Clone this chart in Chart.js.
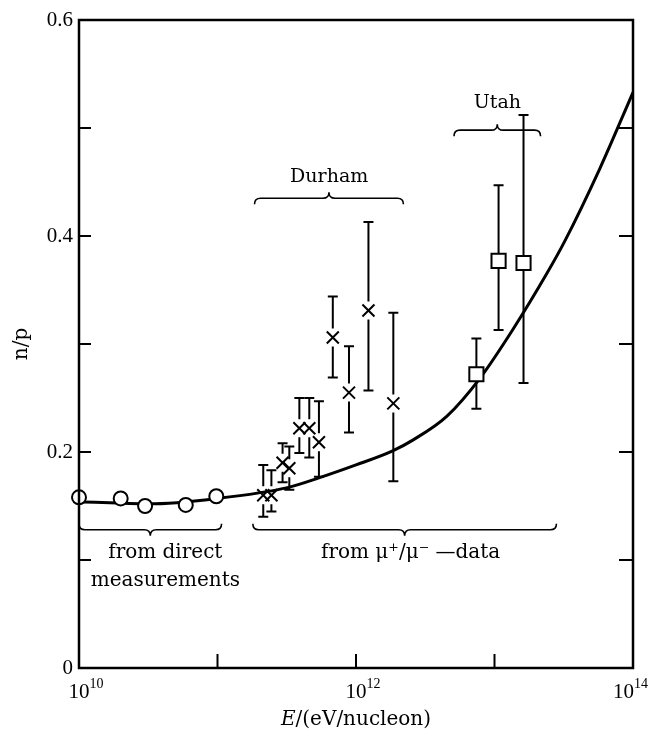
<!DOCTYPE html>
<html>
<head>
<meta charset="utf-8">
<script src="https://cdn.jsdelivr.net/npm/chart.js@4.4.1/dist/chart.umd.min.js"></script>
<style>
  html, body { margin: 0; padding: 0; background: #fff; }
  #wrap { width: 650px; height: 738px; }
</style>
</head>
<body>
<div id="wrap"><canvas id="npChart" width="650" height="738"></canvas></div>
<script>
// direct measurements (open circles)
const directE  = [1.0e10, 2.0e10, 3.0e10, 5.9e10, 9.8e10];
const directNP = [0.158, 0.157, 0.150, 0.151, 0.159];

// Durham, from mu+/mu- ratio (crosses)
const durhamE  = [2.14e11, 2.45e11, 2.95e11, 3.3e11, 3.9e11, 4.6e11, 5.4e11, 6.8e11, 8.9e11, 1.23e12, 1.86e12];
const durhamNP = [0.160, 0.160, 0.190, 0.185, 0.222, 0.222, 0.209, 0.306, 0.255, 0.331, 0.245];
const durhamLo = [0.140, 0.145, 0.172, 0.165, 0.199, 0.195, 0.177, 0.269, 0.218, 0.257, 0.173];
const durhamHi = [0.188, 0.183, 0.208, 0.205, 0.250, 0.250, 0.247, 0.344, 0.298, 0.413, 0.329];

// Utah (open squares)
const utahE  = [7.4e12, 1.07e13, 1.62e13];
const utahNP = [0.272, 0.377, 0.375];
const utahLo = [0.240, 0.313, 0.264];
const utahHi = [0.305, 0.447, 0.512];

// model curve
const curveE  = [1e10, 3.2e10, 1e11, 3.2e11, 5.4e11, 1e12, 1.84e12, 2.57e12, 4.52e12, 7.82e12, 1.35e13, 2.38e13, 3.21e13, 5.74e13, 1e14];
const curveNP = [0.154, 0.152, 0.157, 0.167, 0.176, 0.188, 0.201, 0.211, 0.233, 0.268, 0.313, 0.365, 0.395, 0.462, 0.533];

// axis ticks
const xLabelExp = [10, 12, 14];
const xTickE = [1e11, 1e12, 1e13];
const yLabels = [0, 0.2, 0.4, 0.6];
const yTicks = [0.1, 0.2, 0.3, 0.4, 0.5];

// braces and their captions (data coordinates)
const braces = [
    { from: 1.0e10, to: 1.07e11, y: 0.128, dir: 1 },
    { from: 1.8e11, to: 2.8e13, y: 0.128, dir: 1 },
    { from: 1.85e11, to: 2.2e12, y: 0.435, dir: -1 },
    { from: 5.1e12, to: 2.15e13, y: 0.498, dir: -1 }
];
const captions = [
    { text: 'from direct', E: 4.2e10, y: 0.107, size: 20 },
    { text: 'measurements', E: 4.2e10, y: 0.081, size: 20 },
    { text: 'from \u03bc\u207a/\u03bc\u207b \u2014data', E: 2.48e12, y: 0.107, size: 20 },
    { text: 'Durham', E: 6.4e11, y: 0.455, size: 19 },
    { text: 'Utah', E: 1.05e13, y: 0.523, size: 19 }
];

const errorSets = [
    { E: durhamE, lo: durhamLo, hi: durhamHi, mid: durhamNP, gap: 9 },
    { E: utahE, lo: utahLo, hi: utahHi, mid: utahNP, gap: 0 }
];

const SERIF = '"DejaVu Serif", serif';
const NUM = '"Liberation Serif", serif';

function pts(xs, ys) {
    return xs.map((x, i) => ({ x: x, y: ys[i] }));
}

function drawBrace(ctx, x1, x2, y, dir) {
    const xm = (x1 + x2) / 2;
    const r = 6;
    ctx.beginPath();
    ctx.moveTo(x1, y - dir * r);
    ctx.quadraticCurveTo(x1, y, x1 + r, y);
    ctx.lineTo(xm - r, y);
    ctx.quadraticCurveTo(xm, y, xm, y + dir * r);
    ctx.quadraticCurveTo(xm, y, xm + r, y);
    ctx.lineTo(x2 - r, y);
    ctx.quadraticCurveTo(x2, y, x2, y - dir * r);
    ctx.stroke();
}

const figurePlugin = {
    id: 'figure',
    beforeDatasetsDraw(chart) {
        const ctx = chart.ctx, xs = chart.scales.x, ys = chart.scales.y;
        ctx.save();
        ctx.strokeStyle = '#000';
        ctx.lineWidth = 2;
        errorSets.forEach(set => {
            set.E.forEach((e, i) => {
                const px = xs.getPixelForValue(e);
                const top = ys.getPixelForValue(set.hi[i]);
                const bot = ys.getPixelForValue(set.lo[i]);
                ctx.beginPath();
                if (set.gap) {
                    const c = ys.getPixelForValue(set.mid[i]);
                    ctx.moveTo(px, top); ctx.lineTo(px, c - set.gap);
                    ctx.moveTo(px, c + set.gap); ctx.lineTo(px, bot);
                } else {
                    ctx.moveTo(px, top); ctx.lineTo(px, bot);
                }
                ctx.moveTo(px - 5, top); ctx.lineTo(px + 5, top);
                ctx.moveTo(px - 5, bot); ctx.lineTo(px + 5, bot);
                ctx.stroke();
            });
        });
        ctx.restore();
    },
    afterDraw(chart) {
        const ctx = chart.ctx, xs = chart.scales.x, ys = chart.scales.y;
        const a = chart.chartArea;
        ctx.save();
        ctx.strokeStyle = '#000';
        ctx.fillStyle = '#000';

        // frame
        ctx.lineWidth = 2.5;
        ctx.strokeRect(a.left, a.top, a.right - a.left, a.bottom - a.top);

        // inward ticks
        ctx.lineWidth = 2;
        ctx.beginPath();
        xTickE.forEach(e => {
            const px = xs.getPixelForValue(e);
            ctx.moveTo(px, a.bottom); ctx.lineTo(px, a.bottom - 14);
        });
        yTicks.forEach(v => {
            const py = ys.getPixelForValue(v);
            ctx.moveTo(a.left, py); ctx.lineTo(a.left + 12, py);
            ctx.moveTo(a.right, py); ctx.lineTo(a.right - 14, py);
        });
        ctx.stroke();

        // y tick labels
        ctx.font = '21px ' + NUM;
        ctx.textAlign = 'right';
        ctx.textBaseline = 'middle';
        yLabels.forEach(v => {
            ctx.fillText(v === 0 ? '0' : v.toFixed(1), a.left - 6, ys.getPixelForValue(v));
        });

        // x tick labels 10^n
        ctx.textAlign = 'left';
        ctx.textBaseline = 'middle';
        xLabelExp.forEach(n => {
            const px = xs.getPixelForValue(Math.pow(10, n));
            ctx.font = '21px ' + NUM;
            const wMain = ctx.measureText('10').width;
            ctx.font = '14px ' + NUM;
            const wSup = ctx.measureText(String(n)).width;
            let left = px - wMain / 2;
            if (left + wMain + wSup > 648) left = 648 - wMain - wSup;
            ctx.font = '21px ' + NUM;
            ctx.fillText('10', left, a.bottom + 24);
            ctx.font = '14px ' + NUM;
            ctx.fillText(String(n), left + wMain, a.bottom + 16);
        });

        // axis titles
        ctx.font = 'italic 20px ' + SERIF;
        const wE = ctx.measureText('E').width;
        ctx.font = '20px ' + SERIF;
        const rest = '/(eV/nucleon)';
        const wR = ctx.measureText(rest).width;
        const cx = (a.left + a.right) / 2;
        const sx = cx - (wE + wR) / 2;
        ctx.font = 'italic 20px ' + SERIF;
        ctx.fillText('E', sx, 720);
        ctx.font = '20px ' + SERIF;
        ctx.fillText(rest, sx + wE, 720);

        ctx.save();
        ctx.translate(22, (a.top + a.bottom) / 2);
        ctx.rotate(-Math.PI / 2);
        ctx.textAlign = 'center';
        ctx.font = '20px ' + SERIF;
        ctx.fillText('n/p', 0, 0);
        ctx.restore();

        // braces
        ctx.lineWidth = 1.6;
        braces.forEach(b => {
            drawBrace(ctx, xs.getPixelForValue(b.from), xs.getPixelForValue(b.to),
                ys.getPixelForValue(b.y), b.dir);
        });

        // captions
        ctx.textAlign = 'center';
        ctx.textBaseline = 'middle';
        captions.forEach(c => {
            ctx.font = c.size + 'px ' + SERIF;
            ctx.fillText(c.text, xs.getPixelForValue(c.E), ys.getPixelForValue(c.y));
        });
        ctx.restore();
    }
};

new Chart(document.getElementById('npChart'), {
    type: 'scatter',
    data: {
        datasets: [
            {
                label: 'direct',
                data: pts(directE, directNP),
                pointStyle: 'circle',
                pointRadius: 7,
                backgroundColor: '#fff',
                borderColor: '#000',
                borderWidth: 2,
                clip: false,
                order: 1
            },
            {
                label: 'Durham',
                data: pts(durhamE, durhamNP),
                pointStyle: 'crossRot',
                pointRadius: 8.5,
                borderColor: '#000',
                borderWidth: 2,
                clip: false,
                order: 1
            },
            {
                label: 'Utah',
                data: pts(utahE, utahNP),
                pointStyle: 'rect',
                pointRadius: 10,
                backgroundColor: '#fff',
                borderColor: '#000',
                borderWidth: 2,
                clip: false,
                order: 1
            },
            {
                type: 'line',
                label: 'model',
                data: pts(curveE, curveNP),
                borderColor: '#000',
                borderWidth: 3,
                pointRadius: 0,
                fill: false,
                cubicInterpolationMode: 'monotone',
                order: 2
            }
        ]
    },
    options: {
        responsive: false,
        animation: false,
        layout: { padding: { top: 20, right: 17, left: 0, bottom: 0 } },
        plugins: {
            legend: { display: false },
            tooltip: { enabled: false }
        },
        scales: {
            x: {
                type: 'logarithmic',
                min: 1e10,
                max: 1e14,
                grid: { display: false },
                border: { display: false },
                ticks: { display: false },
                afterFit: s => { s.height = 70; }
            },
            y: {
                min: 0,
                max: 0.6,
                grid: { display: false },
                border: { display: false },
                ticks: { display: false },
                afterFit: s => { s.width = 79; }
            }
        }
    },
    plugins: [figurePlugin]
});
</script>
</body>
</html>
